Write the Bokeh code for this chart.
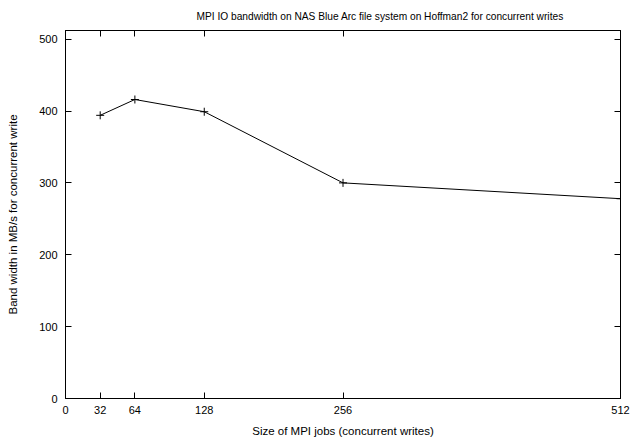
from bokeh.plotting import figure
from bokeh.models import Range1d, FixedTicker, LinearAxis, CustomJSTickFormatter
from bokeh.embed import file_html
from bokeh.resources import INLINE

job_sizes = [32, 64, 128, 256, 512]
bandwidth = [394, 416, 399, 300, 278]
x_ticks = [0, 32, 64, 128, 256, 512]
y_ticks = [0, 100, 200, 300, 400, 500]

title_text = "MPI IO bandwidth on NAS Blue Arc file system on Hoffman2 for concurrent writes"
x_label = "Size of MPI jobs (concurrent writes)"
y_label = "Band width in MB/s for concurrent write"

FONT = "Liberation Sans"

p = figure(width=633, height=439, output_backend="svg", toolbar_location=None,
           x_range=Range1d(0, 512), y_range=Range1d(0, 512),
           min_border_left=65, min_border_right=13, min_border_top=30, min_border_bottom=40,
           title=title_text)
p.background_fill_color = "white"
p.border_fill_color = "white"
p.outline_line_color = "black"
p.outline_line_width = 1
p.xgrid.visible = False
p.ygrid.visible = False

p.title.align = "left"
p.title.offset = 131
p.title.text_font = FONT
p.title.text_font_size = "10.2px"
p.title.text_font_style = "normal"
p.title.text_color = "black"
p.title.standoff = 17


def style_axis(ax, ticks, labels=True):
    ax.ticker = FixedTicker(ticks=ticks)
    ax.minor_tick_line_color = None
    ax.major_tick_in = 6
    ax.major_tick_out = 0
    ax.axis_line_color = "black"
    ax.major_tick_line_color = "black"
    ax.major_label_text_font = FONT
    ax.major_label_text_font_size = "11px"
    ax.major_label_text_color = "black"
    if not labels:
        ax.formatter = CustomJSTickFormatter(code="return ''")
        ax.major_label_text_font_size = "1px"
        ax.major_label_standoff = 0


xa = p.xaxis[0]
ya = p.yaxis[0]
style_axis(xa, x_ticks)
style_axis(ya, y_ticks)
xa.major_label_standoff = 7
ya.major_label_standoff = 8
xa.axis_label = x_label
ya.axis_label = y_label
for ax in (xa, ya):
    ax.axis_label_text_font = FONT
    ax.axis_label_text_font_size = "11.5px"
    ax.axis_label_text_font_style = "normal"
    ax.axis_label_text_color = "black"
xa.axis_label_standoff = 8
ya.axis_label_standoff = 17

top = LinearAxis()
style_axis(top, x_ticks, labels=False)
p.add_layout(top, "above")
right = LinearAxis()
style_axis(right, y_ticks, labels=False)
p.add_layout(right, "right")

p.line(job_sizes, bandwidth, line_color="black", line_width=1)
p.scatter(job_sizes, bandwidth, marker="cross", size=8, line_color="black", line_width=1)

open("out.html", "w").write(file_html(p, INLINE))
